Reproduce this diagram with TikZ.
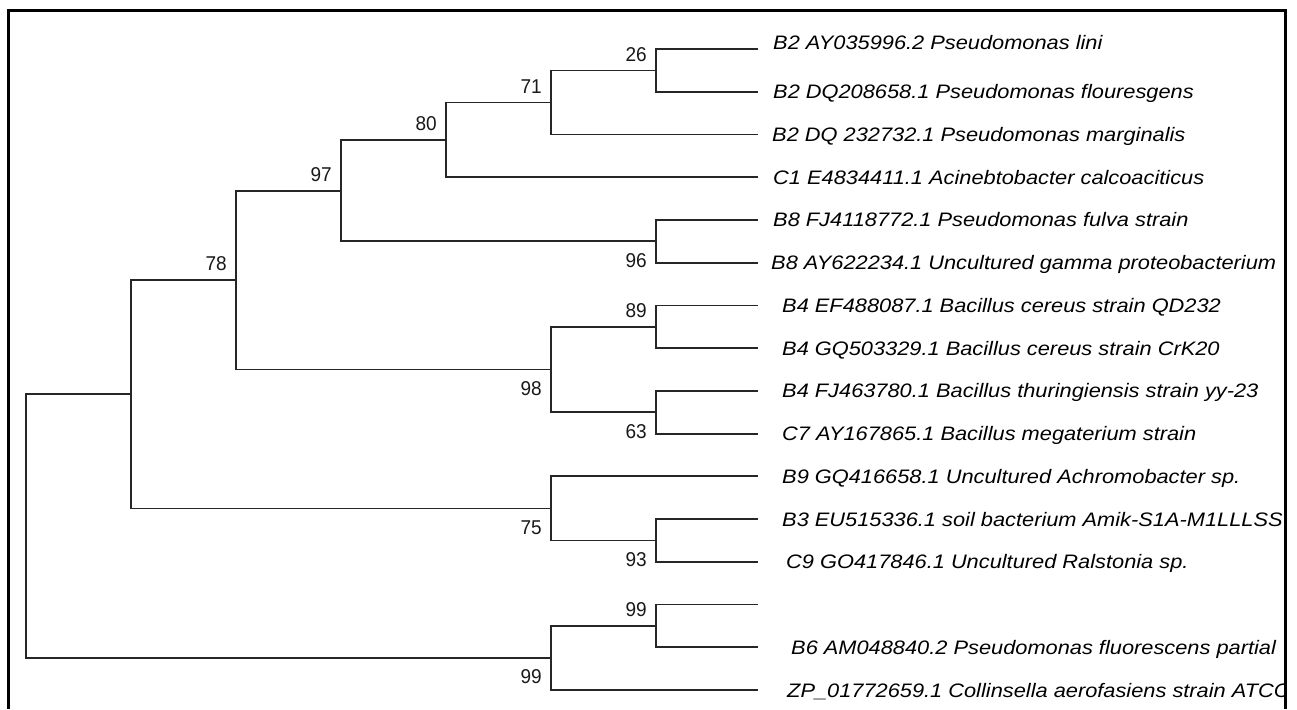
\documentclass[tikz,border=0pt]{standalone}
\usepackage{fontspec}
\setmainfont{Liberation Sans}
\newfontfamily\leaffont[FakeStretch=1.118]{Liberation Sans}
\newfontfamily\bootfont[FakeStretch=0.95]{Liberation Sans}
\usetikzlibrary{calc}
\begin{document}
\begin{tikzpicture}[x=1pt,y=-1pt,
  branch/.style={draw=black!85, line width=1.8pt},
  frameline/.style={draw=black, line width=3pt},
  leaf/.style={anchor=base west, inner sep=0pt, font=\leaffont\itshape\fontsize{19.5}{21}\selectfont},
  boot/.style={anchor=east, inner sep=0pt, font=\bootfont\fontsize{20}{21}\selectfont, text=black!90}]
\useasboundingbox (0,0) rectangle (1297,709);
\fill[white] (0,0) rectangle (1297,709);
% frame (no bottom edge)
\draw[frameline] (8.3,709) -- (8.3,10.3) -- (1285.7,10.3) -- (1285.7,709);
% internal nodes
\coordinate (root) at (26,526.1);
\coordinate (nA) at (131,394.2);
\coordinate (n78) at (236,280.0);
\coordinate (n97) at (341,190.6);
\coordinate (n80) at (446,139.8);
\coordinate (n71) at (551,102.4);
\coordinate (n26) at (656,70.4);
\coordinate (n96) at (656,241.3);
\coordinate (n98) at (551,369.5);
\coordinate (n89) at (656,326.8);
\coordinate (n63) at (656,412.2);
\coordinate (n75) at (551,508.4);
\coordinate (n93) at (656,540.4);
\coordinate (n99b) at (551,658);
\coordinate (n99a) at (656,625.9);
% leaves
\foreach \i in {1,...,16}{\coordinate (l\i) at (758,{49+(\i-1)*42.733});}
% branches
\foreach \p/\c in {root/nA,root/n99b,nA/n78,nA/n75,n78/n97,n78/n98,n97/n80,n97/n96,
  n80/n71,n80/l4,n71/n26,n71/l3,n26/l1,n26/l2,n96/l5,n96/l6,n98/n89,n98/n63,
  n89/l7,n89/l8,n63/l9,n63/l10,n75/l11,n75/n93,n93/l12,n93/l13,n99b/n99a,n99b/l16,
  n99a/l14,n99a/l15}
  \draw[branch] (\p) |- (\c);
% bootstrap values
\node[boot] (b26) at ($(n26)+(-9,-16)$) {26};
\node[boot] (b71) at ($(n71)+(-9,-16)$) {71};
\node[boot] (b80) at ($(n80)+(-9,-16)$) {80};
\node[boot] (b96) at ($(n96)+(-9,19)$) {96};
\node[boot] (b97) at ($(n97)+(-9,-16)$) {97};
\node[boot] (b89) at ($(n89)+(-9,-16)$) {89};
\node[boot] (b63) at ($(n63)+(-9,19)$) {63};
\node[boot] (b98) at ($(n98)+(-9,19)$) {98};
\node[boot] (b78) at ($(n78)+(-9,-16)$) {78};
\node[boot] (b93) at ($(n93)+(-9,19)$) {93};
\node[boot] (b75) at ($(n75)+(-9,19)$) {75};
\node[boot] (b99a) at ($(n99a)+(-9,-16)$) {99};
\node[boot] (b99b) at ($(n99b)+(-9,19)$) {99};
% leaf labels, clipped at the frame
\begin{scope}
\clip (0,0) rectangle (1284,709);
\node[leaf] (t1) at ($(l1)+(15,0)$) {B2 AY035996.2 Pseudomonas lini};
\node[leaf] (t2) at ($(l2)+(15,7)$) {B2 DQ208658.1 Pseudomonas flouresgens};
\node[leaf] (t3) at ($(l3)+(14,7)$) {B2 DQ 232732.1 Pseudomonas marginalis};
\node[leaf] (t4) at ($(l4)+(15,7)$) {C1 E4834411.1 Acinebtobacter calcoaciticus};
\node[leaf] (t5) at ($(l5)+(15,7)$) {B8 FJ4118772.1 Pseudomonas fulva strain};
\node[leaf] (t6) at ($(l6)+(13,7)$) {B8 AY622234.1 Uncultured gamma proteobacterium};
\node[leaf] (t7) at ($(l7)+(24,7)$) {B4 EF488087.1 Bacillus cereus strain QD232};
\node[leaf] (t8) at ($(l8)+(24,7)$) {B4 GQ503329.1 Bacillus cereus strain CrK20};
\node[leaf] (t9) at ($(l9)+(24,7)$) {B4 FJ463780.1 Bacillus thuringiensis strain yy-23};
\node[leaf] (t10) at ($(l10)+(24,7)$) {C7 AY167865.1 Bacillus megaterium strain};
\node[leaf] (t11) at ($(l11)+(24,7)$) {B9 GQ416658.1 Uncultured Achromobacter sp.};
\node[leaf] (t12) at ($(l12)+(24,7)$) {B3 EU515336.1 soil bacterium Amik-S1A-M1LLLSS};
\node[leaf] (t13) at ($(l13)+(28,7)$) {C9 GO417846.1 Uncultured Ralstonia sp.};
\node[leaf] (t15) at ($(l15)+(33,7)$) {B6 AM048840.2 Pseudomonas fluorescens partial};
\node[leaf] (t16) at ($(l16)+(29,7)$) {ZP\_01772659.1 Collinsella aerofasiens strain ATCC};
\end{scope}
\end{tikzpicture}
\end{document}
